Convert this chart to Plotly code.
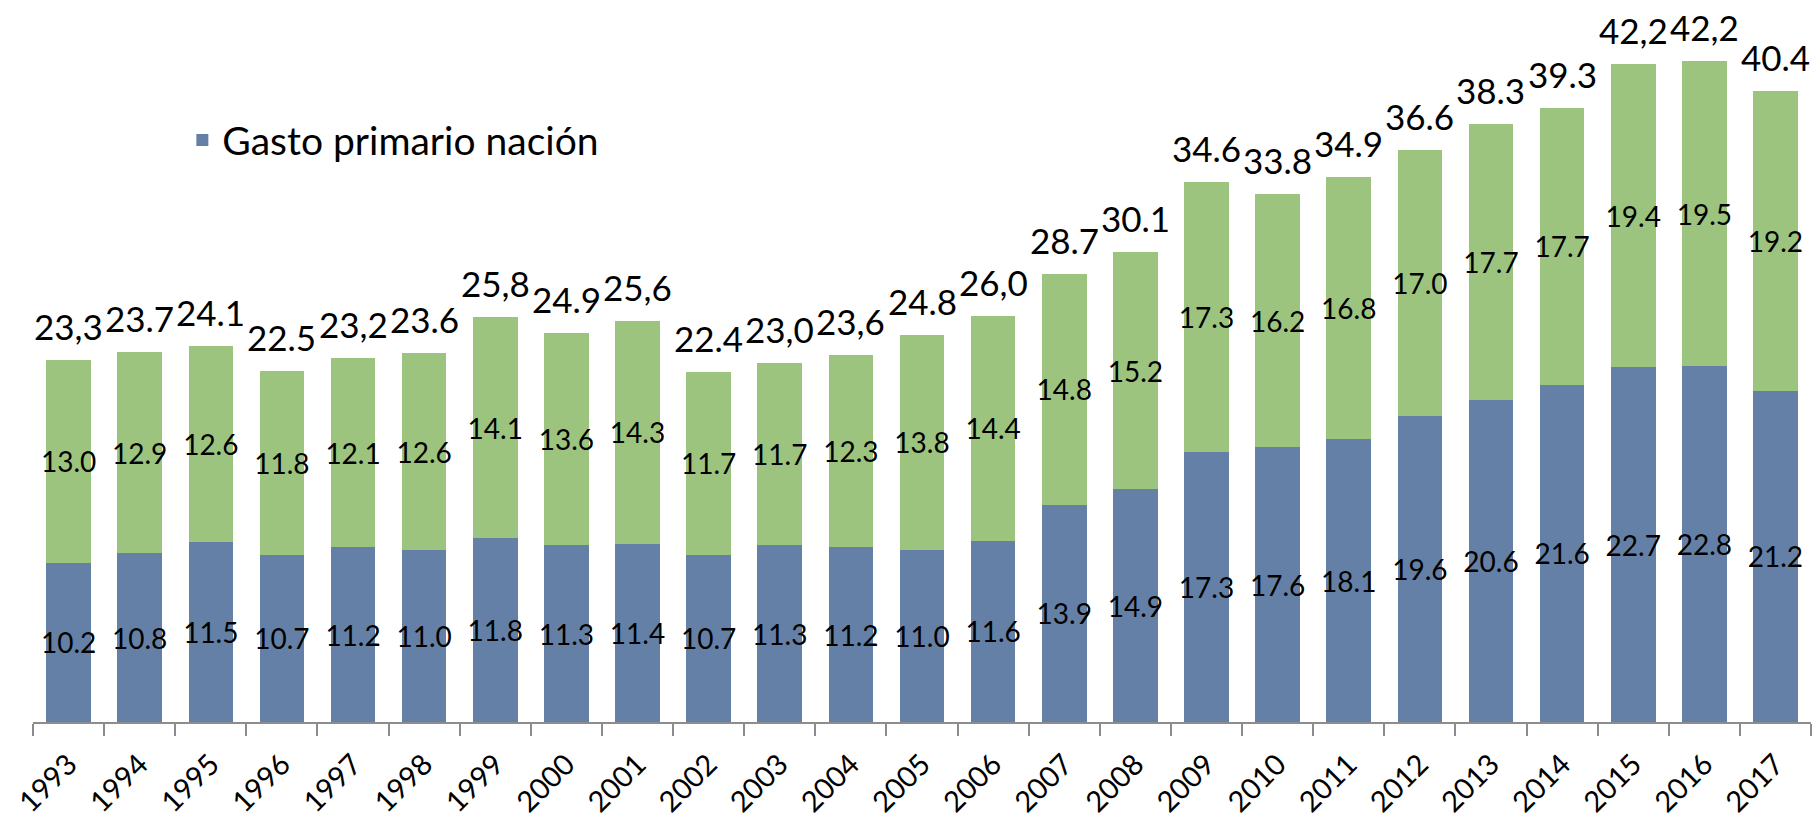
import plotly.graph_objects as go

years = [str(y) for y in range(1993, 2018)]
gasto_nacion = [10.2, 10.8, 11.5, 10.7, 11.2, 11.0, 11.8, 11.3, 11.4, 10.7, 11.3, 11.2, 11.0,
                11.6, 13.9, 14.9, 17.3, 17.6, 18.1, 19.6, 20.6, 21.6, 22.7, 22.8, 21.2]
gasto_resto = [13.0, 12.9, 12.6, 11.8, 12.1, 12.6, 14.1, 13.6, 14.3, 11.7, 11.7, 12.3, 13.8,
               14.4, 14.8, 15.2, 17.3, 16.2, 16.8, 17.0, 17.7, 17.7, 19.4, 19.5, 19.2]
total_labels = ["23,3", "23.7", "24.1", "22.5", "23,2", "23.6", "25,8", "24.9", "25,6", "22.4",
                "23,0", "23,6", "24.8", "26,0", "28.7", "30.1", "34.6", "33.8", "34.9", "36.6",
                "38.3", "39.3", "42,2", "42,2", "40.4"]

FONT = "Lato, 'Open Sans', sans-serif"
BLUE = "#6480A6"
GREEN = "#9CC47F"
AXIS = "#8C8C8C"

fig = go.Figure()
fig.add_trace(go.Bar(
    x=years, y=gasto_nacion, name="Gasto primario nación",
    marker=dict(color=BLUE, line=dict(width=0)),
    texttemplate="%{y:.1f}", textposition="inside", insidetextanchor="middle",
    textangle=0, textfont=dict(family=FONT, size=28, color="black"),
))
fig.add_trace(go.Bar(
    x=years, y=gasto_resto, name="Resto", showlegend=False,
    marker=dict(color=GREEN, line=dict(width=0)),
    texttemplate="%{y:.1f}", textposition="inside", insidetextanchor="middle",
    textangle=0, textfont=dict(family=FONT, size=28, color="black"),
))

totals = [a + b for a, b in zip(gasto_nacion, gasto_resto)]
for i, (t, lab) in enumerate(zip(totals, total_labels)):
    fig.add_annotation(x=i, y=t, xref="x", yref="y", text=lab, showarrow=False,
                       yanchor="bottom", xanchor="center", yshift=11,
                       font=dict(family=FONT, size=35, color="black"))

fig.update_layout(
    width=1814, height=823, autosize=False,
    barmode="stack", bargap=0.373,
    plot_bgcolor="white", paper_bgcolor="white",
    margin=dict(l=33, r=3, t=0, b=101, autoexpand=False),
    uniformtext=dict(minsize=28, mode="show"),
    showlegend=True,
    legend=dict(x=0.084, y=0.806, xanchor="left", yanchor="middle",
                font=dict(family=FONT, size=39, color="black"),
                bgcolor="rgba(0,0,0,0)"),
    xaxis=dict(type="category", range=[-0.5, 24.5], showline=True, linecolor=AXIS,
               linewidth=1.5, ticks="outside", tickson="boundaries", ticklen=12,
               tickcolor=AXIS, tickwidth=1.5, tickangle=-45, ticklabelstandoff=12,
               tickfont=dict(family=FONT, size=29, color="black"), automargin=False,
               showgrid=False, zeroline=False),
    yaxis=dict(visible=False, range=[0, 46.22], showgrid=False, zeroline=False,
               automargin=False),
)

fig.write_html("out.html", config={"displayModeBar": False},
               post_script="document.body.style.margin='0';")
